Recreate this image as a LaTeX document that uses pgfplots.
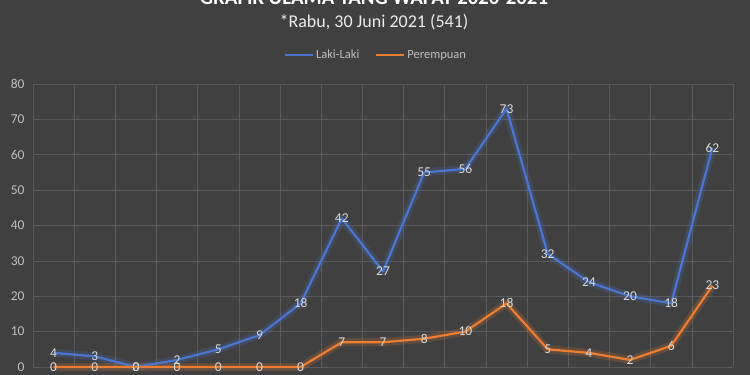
\documentclass[border=0pt]{standalone}
\usepackage{pgfplots}
\pgfplotsset{compat=1.18}
\usepackage{fontspec}
\setmainfont{Carlito}
\definecolor{bg}{HTML}{404040}
\definecolor{gridc}{HTML}{5A5A5A}
\definecolor{tickc}{HTML}{BFBFBF}
\definecolor{lblc}{HTML}{D9D9D9}
\definecolor{blueL}{HTML}{4A76CF}
\definecolor{orangeP}{HTML}{ED7D31}
\begin{document}
\begin{tikzpicture}[x=1pt,y=1pt]
\useasboundingbox (0,0) rectangle (750,375);
\fill[bg] (0,0) rectangle (750,375);
\clip (0,0) rectangle (750,375);
\node[anchor=base,text=white,font=\bfseries\fontsize{20.8}{24}\selectfont] at (374,370) {GRAFIK ULAMA YANG WAFAT 2020-2021};
\node[anchor=base,text=white!92!black,font=\fontsize{18}{21}\selectfont] at (374,347.5) {*Rabu, 30 Juni 2021 (541)};
\begin{axis}[
  at={(33pt,8pt)}, anchor=south west,
  scale only axis, width=700pt, height=283pt,
  xmin=-0.5, xmax=16.5, ymin=0, ymax=80,
  xtick={-0.5,0.5,...,16.5}, xticklabels={},
  ytick={0,10,...,80},
  grid=major, grid style={gridc, line width=0.6pt},
  axis line style={draw=none},
  major tick length=0pt,
  /pgf/number format/assume math mode=true,
  yticklabel style={text=tickc, font=\fontsize{13.5}{15}\selectfont, xshift=-5pt},
  clip=false,
  legend columns=2,
  legend style={at={(0.49,1.102)}, anchor=center, draw=none, fill=none,
    text=tickc, font=\fontsize{12.5}{15}\selectfont,
    /tikz/every even column/.append style={column sep=14pt}},
  legend image code/.code={\draw[#1, line width=2pt] (0pt,0pt)--(28pt,0pt);},
  nodes near coords,
  every node near coord/.append style={anchor=center, text=lblc, font=\fontsize{13.5}{15}\selectfont},
]
% glow
\addplot[forget plot, blueL, opacity=0.2, line width=8pt, line join=round, nodes near coords={}] coordinates {
(0,4)(1,3)(2,0)(3,2)(4,5)(5,9)(6,18)(7,42)(8,27)(9,55)(10,56)(11,73)(12,32)(13,24)(14,20)(15,18)(16,62)};
\addplot[forget plot, orangeP, opacity=0.2, line width=8pt, line join=round, nodes near coords={}] coordinates {
(0,0)(1,0)(2,0)(3,0)(4,0)(5,0)(6,0)(7,7)(8,7)(9,8)(10,10)(11,18)(12,5)(13,4)(14,2)(15,6)(16,23)};
% main lines
\addplot[blueL, line width=2.2pt, line join=round] coordinates {
(0,4)(1,3)(2,0)(3,2)(4,5)(5,9)(6,18)(7,42)(8,27)(9,55)(10,56)(11,73)(12,32)(13,24)(14,20)(15,18)(16,62)};
\addlegendentry{Laki-Laki}
\addplot[orangeP, line width=2.2pt, line join=round] coordinates {
(0,0)(1,0)(2,0)(3,0)(4,0)(5,0)(6,0)(7,7)(8,7)(9,8)(10,10)(11,18)(12,5)(13,4)(14,2)(15,6)(16,23)};
\addlegendentry{Perempuan}
\end{axis}
\end{tikzpicture}
\end{document}
